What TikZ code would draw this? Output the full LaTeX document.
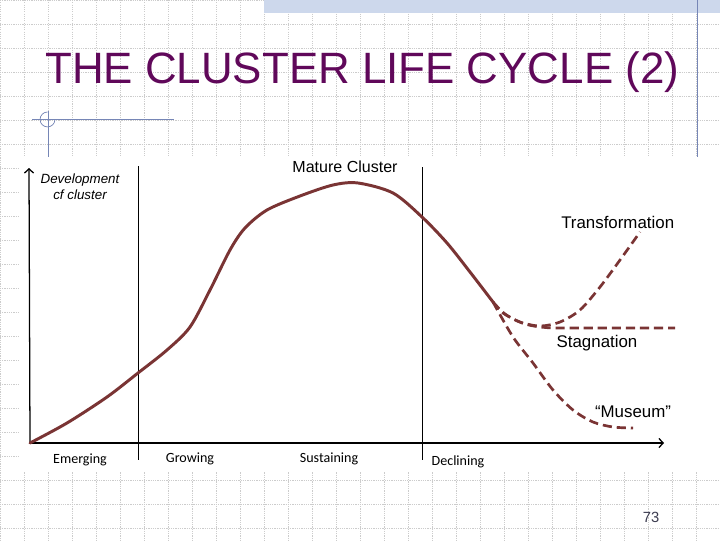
\documentclass[tikz,border=0pt]{standalone}
\usepackage{fontspec}
\setmainfont{Liberation Sans}
\newfontfamily\phasefont{Carlito}
\usepackage{tikz}
\usetikzlibrary{arrows.meta}

\definecolor{curvebrown}{RGB}{122,52,52}
\definecolor{titlepurple}{RGB}{96,8,90}
\definecolor{decoblue}{RGB}{118,134,182}
\definecolor{bandblue}{RGB}{205,216,236}
\definecolor{pagegray}{RGB}{60,60,80}

\tikzset{
  gridline/.style = {gray!40, line width = 0.4pt, dash pattern = on 0.8pt off 0.8pt},
  lifecurve/.style = {curvebrown, line width = 2.1pt, line cap = round},
  branch/.style = {curvebrown, line width = 1.9pt, dash pattern = on 6.5pt off 3.5pt},
  phase/.style = {font = \phasefont\fontsize{10}{12}\selectfont},
  curvelabel/.style = {font = \fontsize{12}{14}\selectfont, inner sep = 0pt}
}

\begin{document}
\begin{tikzpicture}
          [x = 0.025cm, y = -0.025cm, >= {Straight Barb[length = 3pt, width = 6.5pt]}]
          \useasboundingbox (0,0) rectangle (720,540);
          \fill[white] (0,0) rectangle (720,540);
          % slide background
          \foreach \g in {0,24,...,720} \draw[gridline] (\g,0) -- (\g,540);
          \foreach \g in {0,24,...,528} \draw[gridline] (0,\g) -- (720,\g);
          \fill[bandblue] (264,0) rectangle (720,13);
          \draw[decoblue, line width = 0.7pt] (697,0) -- (697,157);
          \draw[decoblue, line width = 0.7pt] (32,119) -- (174,119);
          \draw[decoblue, line width = 0.7pt] (48,111) -- (48,157);
          \draw[decoblue, line width = 0.5pt] (47.5,112) arc[start angle = 90, end angle = 360, radius = 5.3pt];
          \node[titlepurple, font = \fontsize{31.2}{36}\selectfont, anchor = base west, inner sep = 0pt]
            (title) at (45,83) {THE CLUSTER LIFE CYCLE (2)};
          \node[pagegray, font = \fontsize{10.5}{12}\selectfont] (page) at (651,517) {73};
          % the chart
          \fill[white] (19,157) rectangle (720,472);
          \coordinate (O) at (30,443);
          \coordinate (ytop) at (29,168);
          \coordinate (xend) at (664,443);
          \coordinate (fork) at (493,302);
          \draw[->, line width = 0.9pt] (O) -- (ytop);
          \draw[->, line width = 0.9pt] (O) -- (xend);
          \draw[line width = 0.7pt] (138,166) -- (138,460);
          \draw[line width = 0.7pt] (422,167) -- (422,460);
          \draw[lifecurve] plot[smooth] coordinates {(O) (67,423) (107,397) (138,373) (167,350) (190,327)
            (210,290) (230,250) (245,228) (267,210) (300,196) (333,185) (358,183) (393,193)
            (422,217) (447,243) (470,272) (fork)};
          \draw[branch] plot[smooth] coordinates {(fork) (503,313) (520,322) (540,326) (560,322)
            (580,310) (600,287) (620,260) (640,232)};
          \draw[branch] plot[smooth] coordinates {(fork) (505,314) (522,323) (540,327) (565,328) (675,328)};
          \draw[branch] plot[smooth] coordinates {(fork) (513,337) (533,363) (553,390) (573,410)
            (593,422) (613,427) (633,428)};
          \node[font = \itshape\fontsize{9.5}{11.5}\selectfont, align = center] (devel) at (80,187)
            {Development\\cf cluster};
          \node[font = \fontsize{11.4}{13}\selectfont] (mature) at (345,167) {Mature Cluster};
          \node[curvelabel, anchor = base west] (transf) at (561,228) {Transformation};
          \node[curvelabel] (stagn) at (597,343) {Stagnation};
          \node[curvelabel] (museum) at (633,412) {“Museum”};
          \node[phase] (emerg) at (80,460) {Emerging};
          \node[phase] (grow) at (190,459) {Growing};
          \node[phase] (sustain) at (329,459) {Sustaining};
          \node[phase] (declin) at (458,462) {Declining};
        \end{tikzpicture}
\end{document}
